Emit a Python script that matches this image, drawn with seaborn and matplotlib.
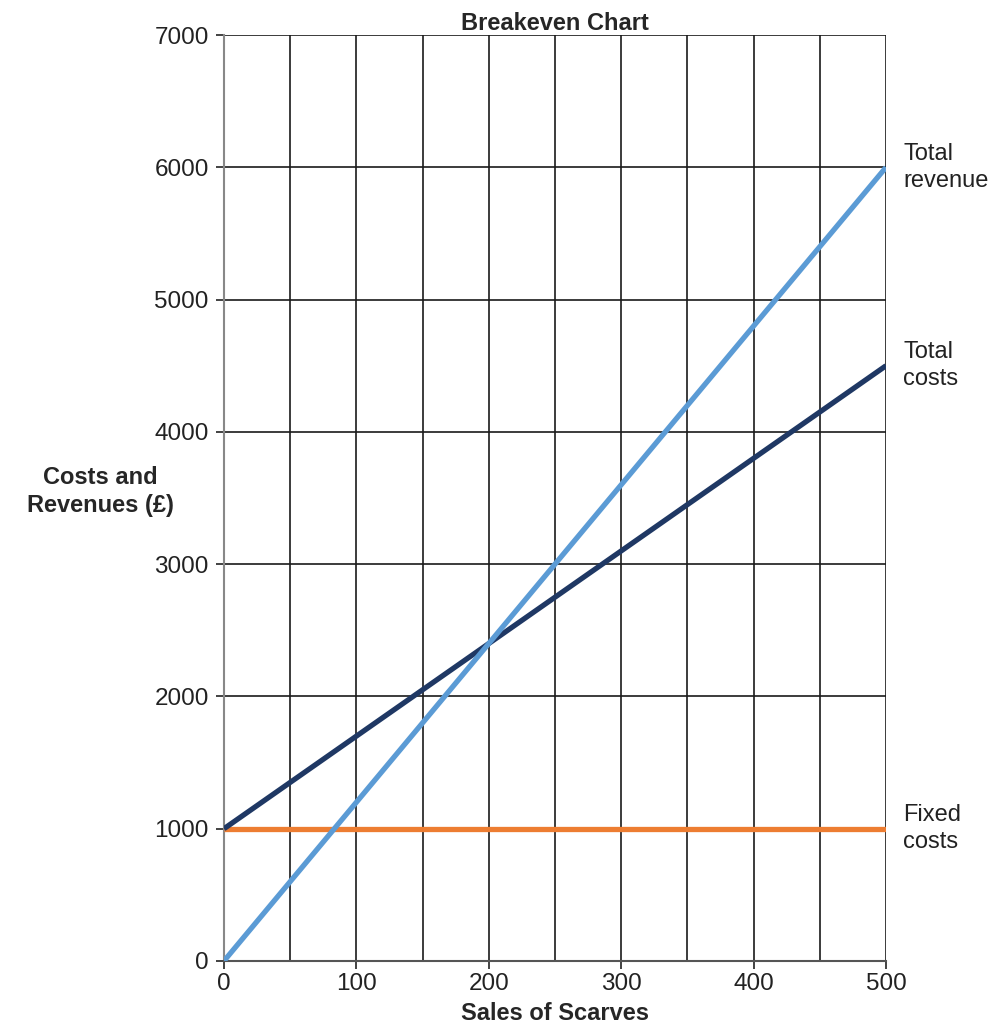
import matplotlib
matplotlib.use("Agg")
import matplotlib.pyplot as plt
import seaborn as sns
import pandas as pd

# Breakeven data for scarf sales
sales = [0, 500]
total_revenue = [0, 6000]
total_costs = [1000, 4500]
fixed_costs = [1000, 1000]

series_names = ["Total\nrevenue", "Total\ncosts", "Fixed\ncosts"]
series_values = [total_revenue, total_costs, fixed_costs]
series_colors = ["#5B9BD5", "#1F3864", "#ED7D31"]

x_ticks = [0, 100, 200, 300, 400, 500]
y_ticks = [0, 1000, 2000, 3000, 4000, 5000, 6000, 7000]

sns.set_style("white")
plt.rcParams["font.family"] = ["Liberation Sans", "DejaVu Sans"]

fig = plt.figure(figsize=(9.99, 10.30), dpi=100)
ax = fig.add_axes([0.2242, 0.067, 0.6627, 0.899])

# Grid: vertical every 50 units, horizontal every 1000
for gx in range(0, 501, 50):
    ax.axvline(gx, color="#1a1a1a", lw=1.2, zorder=1)
for gy in y_ticks:
    ax.axhline(gy, color="#1a1a1a", lw=1.2, zorder=1)

frames = []
for name, vals in zip(series_names, series_values):
    frames.append(pd.DataFrame({"sales": sales, "value": vals, "series": name}))
df = pd.concat(frames, ignore_index=True)

# Fixed costs first so the other lines sit on top
order = [series_names[2], series_names[1], series_names[0]]
palette = dict(zip(series_names, series_colors))
for name in order:
    sns.lineplot(data=df[df["series"] == name], x="sales", y="value",
                 color=palette[name], lw=3.8, ax=ax, zorder=3,
                 solid_capstyle="butt")

# End-of-line labels
for name, vals in zip(series_names, series_values):
    ax.text(1.026, vals[-1], name, transform=ax.get_yaxis_transform(),
            ha="left", va="center", fontsize=17, color="#222222",
            linespacing=1.3)

ax.set_xlim(0, 500)
ax.set_ylim(0, 7000)
ax.set_xticks(x_ticks)
ax.set_yticks(y_ticks)
ax.tick_params(axis="both", labelsize=17.5, colors="#222222", length=6,
               width=1.2, direction="out")
ax.tick_params(axis="x", pad=3)
ax.tick_params(axis="y", pad=5)
ax.xaxis.set_ticks_position("bottom")
ax.yaxis.set_ticks_position("left")

for side in ["top", "right"]:
    ax.spines[side].set_visible(False)
ax.spines["left"].set_color("#888888")
ax.spines["left"].set_linewidth(1.5)
ax.spines["bottom"].set_color("#555555")
ax.spines["bottom"].set_linewidth(1.5)

ax.set_title("Breakeven Chart", fontsize=17, fontweight="bold", pad=3)
ax.set_xlabel("Sales of Scarves", fontsize=17, fontweight="bold", labelpad=5)
ax.set_ylabel("Costs and\nRevenues (£)", fontsize=17, fontweight="bold",
              rotation=0, ha="center", va="center", linespacing=1.3)
ax.yaxis.set_label_coords(-0.187, 0.507)

fig.savefig("out.png", dpi=100, facecolor="white")
